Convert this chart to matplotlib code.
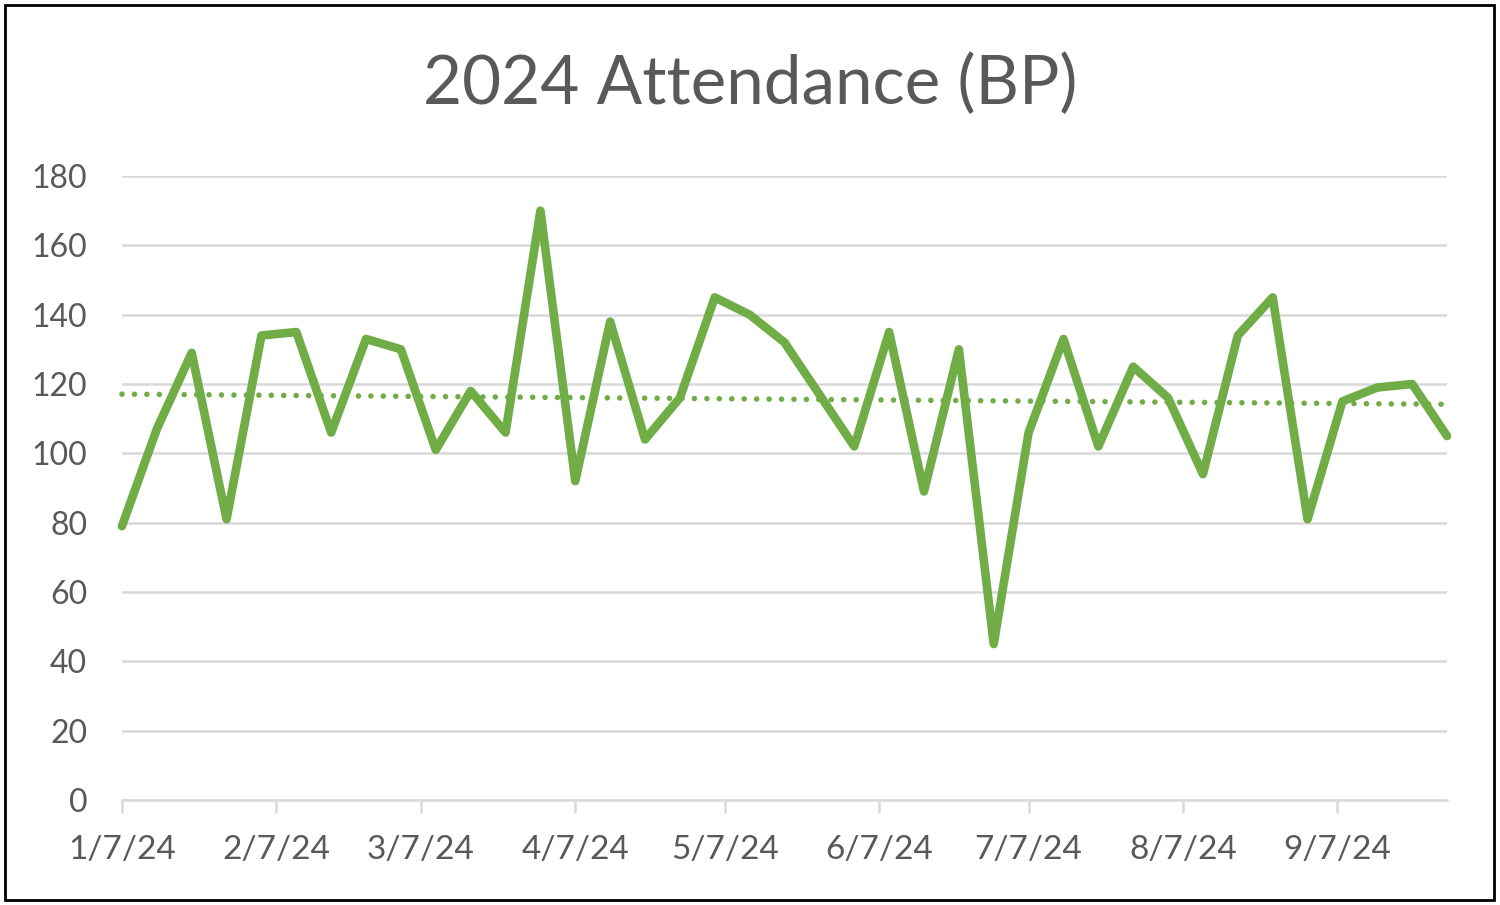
import matplotlib
matplotlib.use("Agg")
import matplotlib.pyplot as plt
import matplotlib.dates as mdates
from matplotlib.patches import Rectangle
import numpy as np
import pandas as pd

# weekly attendance, Sundays from 1/7/24
start_date = "2024-01-07"
attendance = [79, 107, 129, 81, 134, 135, 106, 133, 130, 101,
              118, 106, 170, 92, 138, 104, 116, 145, 140, 132,
              117, 102, 135, 89, 130, 45, 106, 133, 102, 125,
              116, 94, 134, 145, 81, 115, 119, 120, 105]
tick_dates = ["2024-01-07", "2024-02-07", "2024-03-07", "2024-04-07", "2024-05-07",
              "2024-06-07", "2024-07-07", "2024-08-07", "2024-09-07"]
y_ticks = [0, 20, 40, 60, 80, 100, 120, 140, 160, 180]
title = "2024 Attendance (BP)"

green = "#70AD47"
text_grey = "#595959"
grid_grey = "#D9D9D9"

plt.rcParams["font.family"] = ["Lato", "DejaVu Sans"]

dates = pd.date_range(start_date, periods=len(attendance), freq="7D")
x = mdates.date2num(dates)

fig = plt.figure(figsize=(15, 9.05), dpi=100)
ax = fig.add_axes([0.0813, 0.116, 0.8834, 0.6895])

# linear trendline like excel
coef = np.polyfit(x, attendance, 1)
ax.plot(dates, np.polyval(coef, x), color=green, lw=4, linestyle=(0, (0.01, 2.23)),
        dash_capstyle="round", zorder=2, clip_on=False)
ax.plot(dates, attendance, color=green, lw=6.2, solid_joinstyle="round",
        solid_capstyle="round", zorder=3, clip_on=False)

ax.set_ylim(0, 180)
ax.set_yticks(y_ticks)
ax.set_xlim(dates[0], dates[-1])
ax.set_xticks(pd.to_datetime(tick_dates))
ax.xaxis.set_major_formatter(mdates.DateFormatter("%-m/%-d/%y"))

ax.grid(axis="y", color=grid_grey, lw=1.8)
ax.set_axisbelow(True)
for s in ["top", "right", "left"]:
    ax.spines[s].set_visible(False)
ax.spines["bottom"].set_color(grid_grey)
ax.spines["bottom"].set_linewidth(1.8)
ax.spines["bottom"].set_zorder(1)

ax.tick_params(axis="y", length=0, pad=25, labelsize=23, labelcolor=text_grey)
ax.tick_params(axis="x", length=9, width=1.8, color=grid_grey, pad=16,
               labelsize=24, labelcolor=text_grey)

fig.text(0.5, 0.907, title, ha="center", va="center", fontsize=48.5, color=text_grey)

# chart border
fig.patches.append(Rectangle((0.0035, 0.0055), 0.9925, 0.9895, transform=fig.transFigure,
                             fill=False, edgecolor="black", lw=2))

fig.savefig("out.png", dpi=100)
